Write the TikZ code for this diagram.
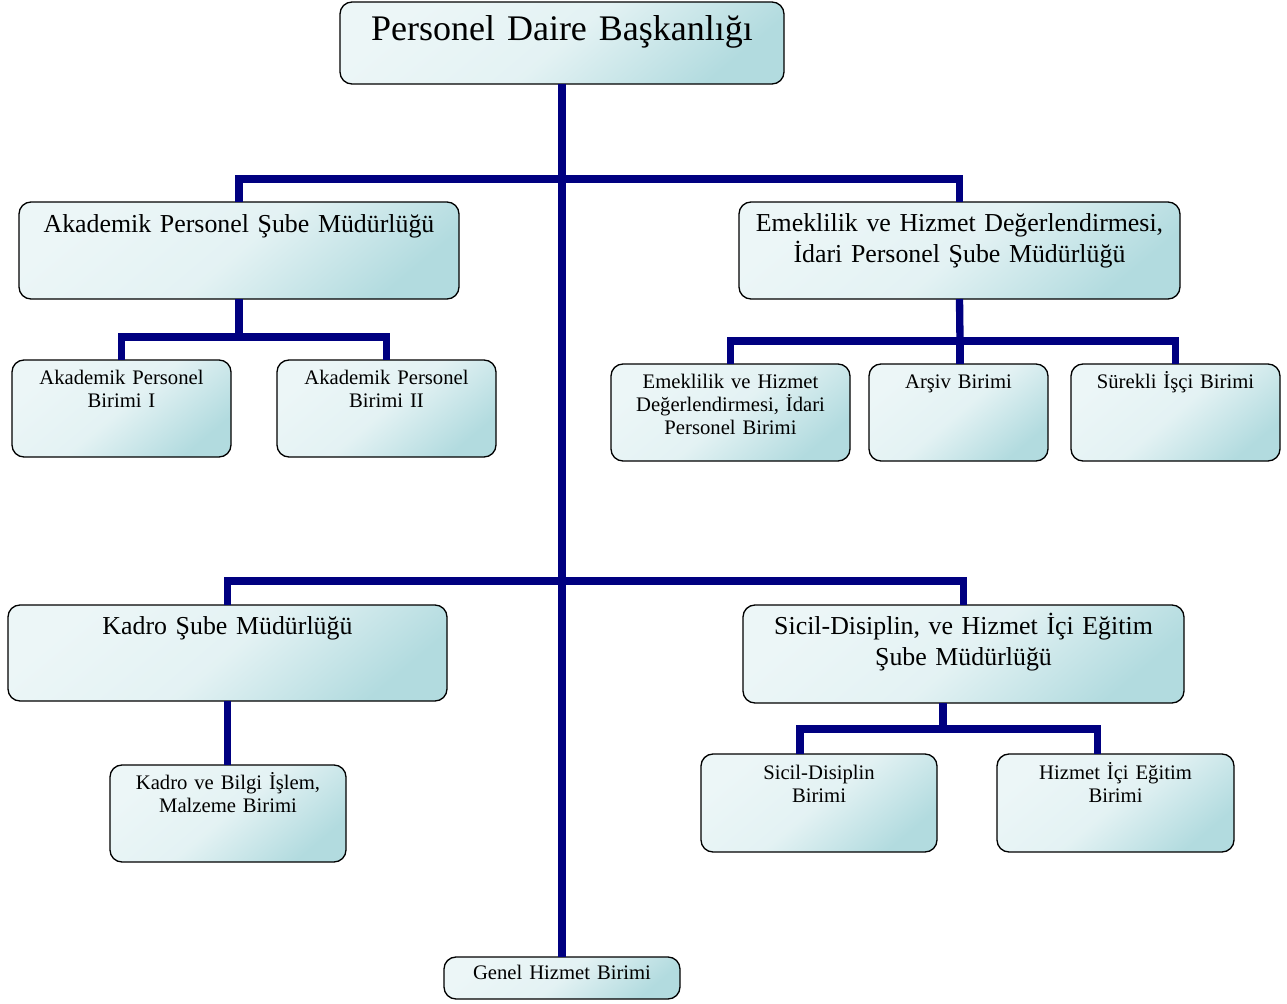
\documentclass[tikz,border=0pt]{standalone}
\usepackage{fontspec}
\setmainfont{Liberation Serif}
\usetikzlibrary{calc}
\definecolor{boxlight}{RGB}{236,246,247}
\definecolor{boxdark}{RGB}{178,219,223}
\definecolor{linknavy}{RGB}{0,0,128}
\tikzset{
  unit/.style={draw=black, line width=1pt, rounded corners=9pt, anchor=north west,
    inner sep=0pt, outer sep=0pt, align=center,
    top color=boxlight, bottom color=boxdark, middle color=boxlight!85!boxdark, shading angle=40},
  bigtext/.style={font=\fontsize{27}{32}\selectfont},
  midtext/.style={font=\fontsize{19.4}{23.3}\selectfont},
  smalltext/.style={font=\fontsize{15.5}{17.6}\selectfont},
  link/.style={draw=linknavy, line width=5.5pt}
}
\begin{document}
\begin{tikzpicture}[x=0.75pt,y=-0.75pt]
\useasboundingbox (0,0) rectangle (1287,1003);

% boxes
\node (root) [unit,bigtext,text width=333pt,text height=28.5pt,text depth=33pt] at (340,2) {Personel Daire Başkanlığı};
\node (akad) [unit,midtext,text width=330pt,text height=22.5pt,text depth=50.25pt] at (19,202) {Akademik Personel Şube Müdürlüğü};
\node (emek) [unit,midtext,text width=330.75pt,text height=21.75pt,text depth=51pt] at (739,202) {Emeklilik ve Hizmet Değerlendirmesi,\\İdari Personel Şube Müdürlüğü};
\node (apone) [unit,smalltext,text width=164.25pt,text height=18pt,text depth=54.75pt] at (12,360) {Akademik Personel\\Birimi I};
\node (aptwo) [unit,smalltext,text width=164.25pt,text height=18pt,text depth=54.75pt] at (277,360) {Akademik Personel\\Birimi II};
\node (ehd) [unit,smalltext,text width=179.25pt,text height=18pt,text depth=54.75pt] at (611,364) {Emeklilik ve Hizmet\\Değerlendirmesi, İdari\\Personel Birimi};
\node (arsiv) [unit,smalltext,text width=134.25pt,text height=18pt,text depth=54.75pt] at (869,364) {Arşiv Birimi};
\node (surekli) [unit,smalltext,text width=156.75pt,text height=18pt,text depth=54.75pt] at (1071,364) {Sürekli İşçi Birimi};
\node (kadro) [unit,midtext,text width=329.25pt,text height=21.75pt,text depth=50.25pt] at (8,605) {Kadro Şube Müdürlüğü};
\node (sicil) [unit,midtext,text width=330.75pt,text height=21.75pt,text depth=51.75pt] at (743,605) {Sicil-Disiplin, ve Hizmet İçi Eğitim\\Şube Müdürlüğü};
\node (kbilgi) [unit,smalltext,text width=177pt,text height=18pt,text depth=54.75pt] at (110,765) {Kadro ve Bilgi İşlem,\\Malzeme Birimi};
\node (sd) [unit,smalltext,text width=177pt,text height=18.75pt,text depth=54.75pt] at (701,754) {Sicil-Disiplin\\Birimi};
\node (hie) [unit,smalltext,text width=177.75pt,text height=18.75pt,text depth=54.75pt] at (997,754) {Hizmet İçi Eğitim\\Birimi};
\node (genel) [unit,smalltext,text width=177pt,text height=16.5pt,text depth=15pt] at (444,957) {Genel Hizmet Birimi};

% joints
\coordinate (topjoin) at (562,179);
\coordinate (midjoin) at (562,581);
\coordinate (akadjoin) at (239,337);
\coordinate (emekjoin) at (960,341);
\coordinate (siciljoin) at (943,729);

% links
\draw[link] (root.south) -- (root.south |- genel.north);
\draw[link] (akad.north) |- (topjoin) -| (emek.north);
\draw[link] (akad.south) -- (akadjoin);
\draw[link] (apone.north) |- (akadjoin) -| (aptwo.north);
\draw[link] (emek.south) -- (emekjoin);
\draw[link] (ehd.north) |- (emekjoin) -| (surekli.north);
\draw[link] (emekjoin) -- (emekjoin |- arsiv.north);
\draw[link] (kadro.north) |- (midjoin) -| (sicil.north);
\draw[link] (kadro.south) -- (kadro.south |- kbilgi.north);
\draw[link] (sicil.south -| siciljoin) -- (siciljoin);
\draw[link] ($(sd.north)+(-19,0)$) |- (siciljoin) -| ($(hie.north)+(-18,0)$);

\end{tikzpicture}
\end{document}
